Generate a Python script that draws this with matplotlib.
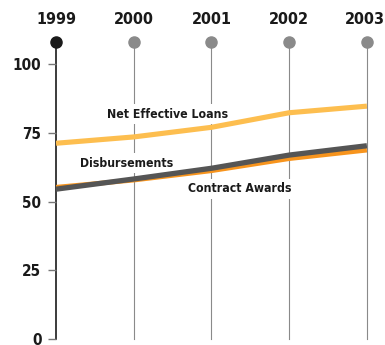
import matplotlib
matplotlib.use("Agg")
import matplotlib.pyplot as plt

years = [1999, 2000, 2001, 2002, 2003]
net_effective_loans = [71.2, 73.5, 77.0, 82.3, 84.7]
disbursements = [54.5, 58.2, 62.1, 66.9, 70.3]
contract_awards = [55.2, 57.8, 61.2, 65.6, 68.7]
yticks = [0, 25, 50, 75, 100]

plt.rcParams["font.family"] = ["DejaVu Sans"]
plt.rcParams["font.stretch"] = "condensed"
plt.rcParams["font.weight"] = "bold"

YTOP = 108

fig = plt.figure(figsize=(3.85, 3.45), dpi=100)
ax = fig.add_axes([0.1455, 0.0174, 0.953 - 0.1455, 0.878 - 0.0174])
ax.set_xlim(years[0], years[-1])
ax.set_ylim(0, YTOP)
for s in ax.spines.values():
    s.set_visible(False)

# year guides with a dot on top
for i, yr in enumerate(years):
    col = "#1a1a1a" if i == 0 else "#8a8a8a"
    lw = 1.2 if i == 0 else 0.8
    ax.plot([yr, yr], [0, YTOP], color=col, lw=lw, clip_on=False, zorder=1)
    ax.plot([yr], [YTOP], "o", color=col, ms=8, clip_on=False, zorder=5)
    # last label is pulled in so it stays on the canvas
    xpos = yr - 0.025 if yr == years[-1] else yr
    ax.text(xpos, YTOP + 5.5, str(yr), ha="center", va="bottom",
            fontsize=11.5, fontweight="bold", color="#1a1a1a")

ax.plot(years, net_effective_loans, color="#fdbe4f", lw=3.7, zorder=3,
        solid_capstyle="butt")
ax.plot(years, contract_awards, color="#f7941d", lw=3.4, zorder=3,
        solid_capstyle="butt")
ax.plot(years, disbursements, color="#555555", lw=3.8, zorder=4,
        solid_capstyle="butt")

box = dict(facecolor="white", edgecolor="none", pad=2.5)
label_kw = dict(ha="center", va="center", fontsize=8.8, fontweight="bold",
                bbox=box, zorder=2, color="#1a1a1a")
ax.text(2000.43, 81.8, "Net Effective Loans", **label_kw)
ax.text(1999.91, 64.0, "Disbursements", **label_kw)
ax.text(2001.37, 54.6, "Contract Awards", **label_kw)

ax.set_xticks([])
ax.set_yticks(yticks)
ax.set_yticklabels([str(v) for v in yticks], fontsize=11, fontweight="bold",
                   color="#1a1a1a")
ax.tick_params(axis="y", length=6, width=1, color="#777777", pad=4.5)

fig.savefig("out.png", dpi=100)
